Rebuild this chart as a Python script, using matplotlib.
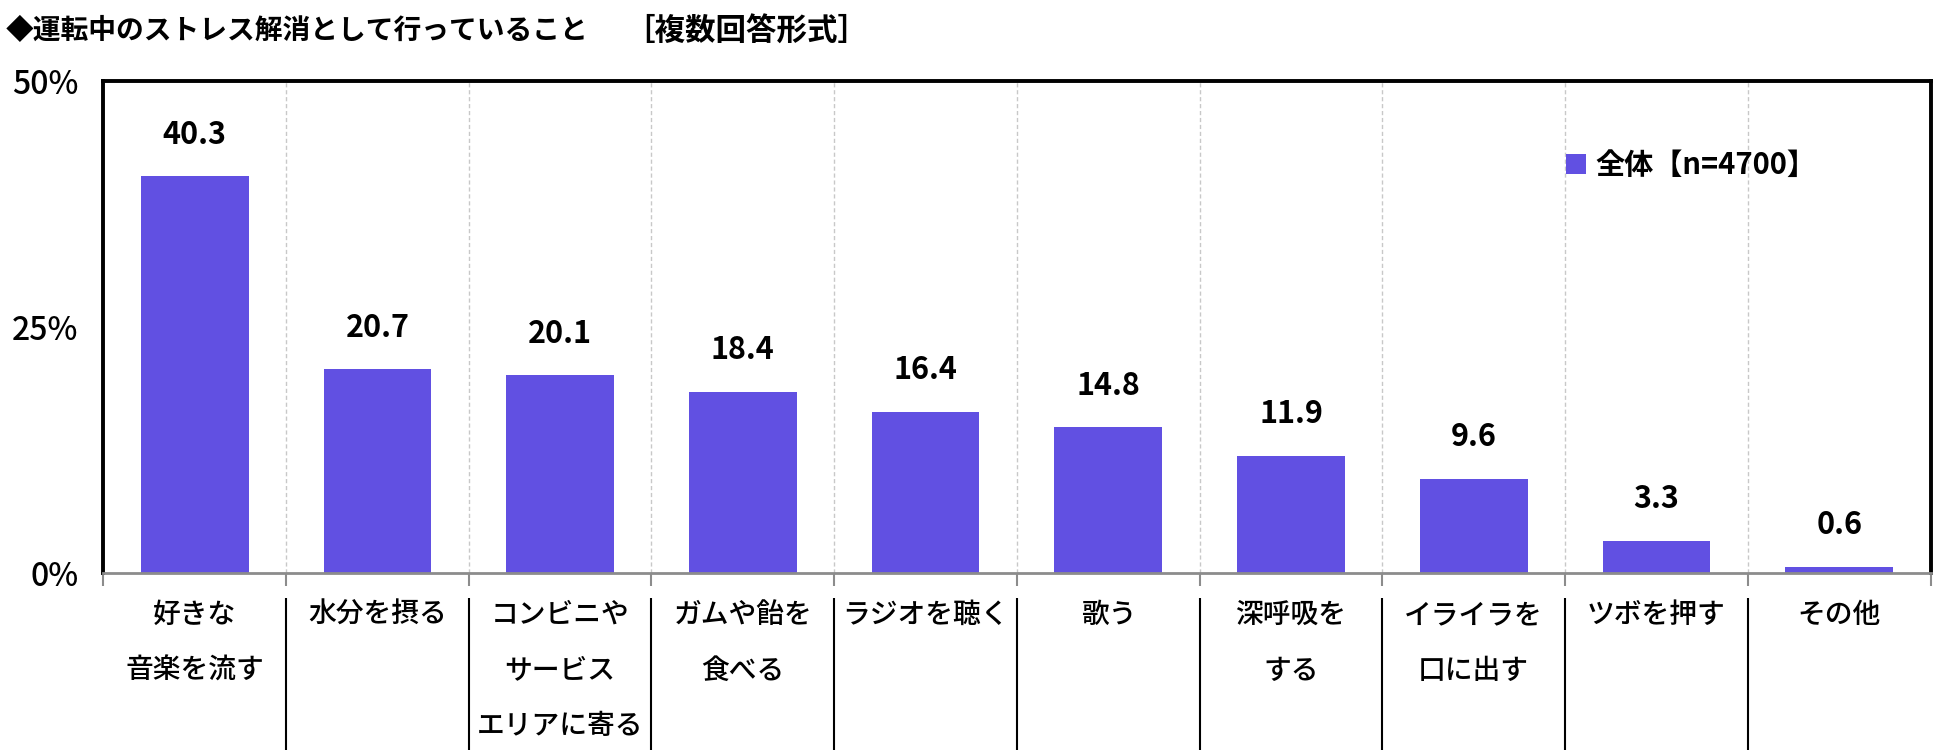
import matplotlib
matplotlib.use("Agg")
import matplotlib.pyplot as plt
from matplotlib.patches import Patch
from matplotlib.transforms import blended_transform_factory

plt.rcParams['font.family'] = ['Noto Sans CJK JP', 'DejaVu Sans']

# ---- data ----
categories = ["好きな\n音楽を流す", "水分を摂る", "コンビニや\nサービス\nエリアに寄る",
              "ガムや飴を\n食べる", "ラジオを聴く", "歌う", "深呼吸を\nする",
              "イライラを\n口に出す", "ツボを押す", "その他"]
values = [40.3, 20.7, 20.1, 18.4, 16.4, 14.8, 11.9, 9.6, 3.3, 0.6]
series_name = "全体【n=4700】"
y_ticks = [0, 25, 50]
y_ticklabels = ["0%", "25%", "50%"]
title_main = "◆運転中のストレス解消として行っていること"
title_sub = "［複数回答形式］"

bar_color = "#6150E2"

fig = plt.figure(figsize=(19.5, 7.5), dpi=100)
ax = fig.add_axes([0.053, 0.236, 0.937, 0.656])

x = list(range(len(categories)))
ax.bar(x, values, width=0.59, color=bar_color, zorder=3)

ax.set_xlim(-0.5, len(categories) - 0.5)
ax.set_ylim(0, 50)

# value labels
for xi, v in zip(x, values):
    ax.annotate(f"{v:.1f}", xy=(xi, v), xytext=(0, 30), textcoords="offset points",
                ha="center", va="center", fontsize=22, fontweight="bold", color="black")

# y ticks
ax.set_yticks(y_ticks)
ax.set_yticklabels(y_ticklabels, fontsize=23, fontweight="medium")
ax.tick_params(axis="y", length=0, pad=18)

# x: gray ticks at boundaries
bounds = [i - 0.5 for i in range(len(categories) + 1)]
ax.set_xticks(bounds)
ax.set_xticklabels([])
ax.tick_params(axis="x", length=9, width=1.5, color="#8c8c8c", direction="out")

# vertical dashed gridlines at interior boundaries
for b in bounds[1:-1]:
    ax.axvline(b, color="#c8c8c8", lw=1.0, ls=(0, (3, 2)), zorder=1)

# frame
for side in ["top", "left", "right"]:
    ax.spines[side].set_color("black")
    ax.spines[side].set_linewidth(2.8)
ax.spines["bottom"].set_color("#8c8c8c")
ax.spines["bottom"].set_linewidth(2.0)
ax.spines["bottom"].set_zorder(4)

trans = blended_transform_factory(ax.transData, ax.transAxes)
# separator lines beneath the axis
for b in bounds[1:-1]:
    ax.plot([b, b], [-0.05, -0.40], transform=trans, color="black", lw=1.5,
            clip_on=False, solid_capstyle="butt")

# category labels
for xi, lab in zip(x, categories):
    ax.text(xi, -0.055, lab, transform=trans, ha="center", va="top",
            fontsize=20, fontweight="medium", linespacing=2.15, color="black")

# legend
handle = Patch(facecolor=bar_color, edgecolor="none")
leg = fig.legend([handle], [series_name], loc="center left",
                 bbox_to_anchor=(0.803, 0.78), frameon=False,
                 prop={"size": 21, "weight": "bold"},
                 handlelength=0.7, handleheight=0.7, handletextpad=0.3,
                 borderpad=0, borderaxespad=0)

# title
fig.text(0.003, 0.958, title_main, fontsize=20, fontweight="bold",
         ha="left", va="center")
fig.text(0.320, 0.958, title_sub, fontsize=22, fontweight="bold",
         ha="left", va="center")

fig.savefig("out.png", dpi=100)
